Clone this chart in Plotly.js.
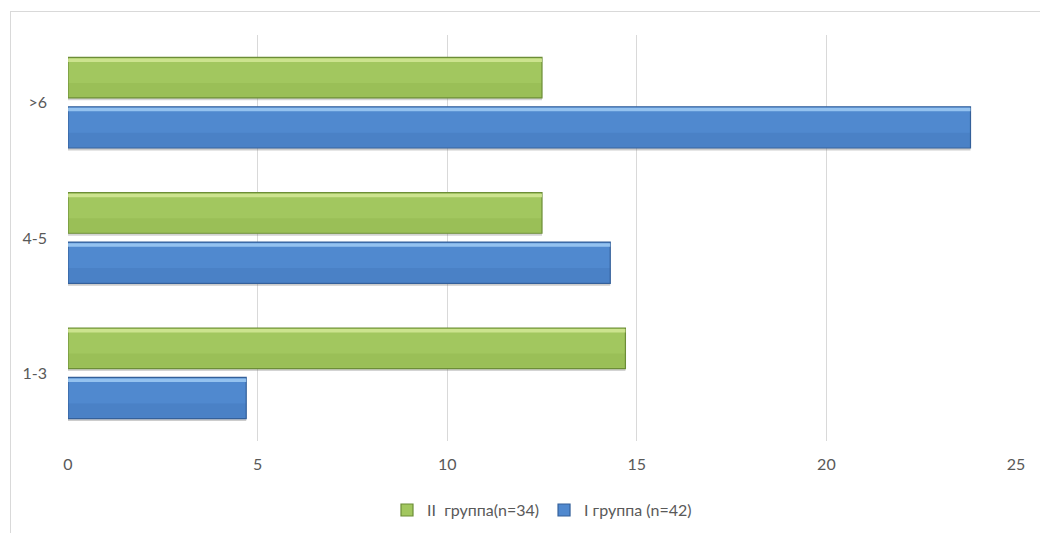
<!DOCTYPE html>
<html>
<head>
<meta charset="utf-8">
<script src="https://cdn.plot.ly/plotly-3.0.1.min.js"></script>
<style>
  html, body { margin: 0; padding: 0; background: #fff; }
  #wrap { position: relative; width: 1040px; height: 533px; }
  #frame { position: absolute; left: 10px; top: 11px; right: 0; bottom: 0;
           border-left: 1px solid #d9d9d9; border-top: 1px solid #d9d9d9; pointer-events: none; }
  #chart { position: absolute; left: 0; top: 0; width: 1040px; height: 533px; }
</style>
</head>
<body>
<div id="wrap">
  <div id="chart"></div>
  <div id="frame"></div>
</div>
<script>
const categories = ['1-3', '4-5', '>6'];
const groupI = [4.7, 14.3, 23.8];      // I группа (n=42)
const groupII = [14.7, 12.5, 12.5];    // II группа(n=34)
const seriesNames = ['I группа (n=42)', 'II  группа(n=34)'];
const xTicks = [0, 5, 10, 15, 20, 25];

// bar geometry (in category units)
const geo = {
  I:  { offset: -0.335, width: 0.305 },
  II: { offset: 0.035, width: 0.30 }
};

function barSet(vals, name, g, base, edge, light, dark, shadow) {
  const common = { type: 'bar', orientation: 'h', y: categories, x: vals, hoverinfo: 'skip', showlegend: false };
  return [
    // soft shadow under the bar
    Object.assign({}, common, { offset: g.offset - 0.018, width: 0.03,
      marker: { color: shadow, line: { width: 0 } } }),
    // main body
    Object.assign({}, common, { name: name, showlegend: true, hoverinfo: 'x+name',
      offset: g.offset, width: g.width,
      marker: { color: base, line: { color: edge, width: 1.2 } } }),
    // subtle lower shading
    Object.assign({}, common, { offset: g.offset + 0.006, width: g.width * 0.35,
      marker: { color: dark, line: { width: 0 } } }),
    // top highlight
    Object.assign({}, common, { offset: g.offset + g.width - 0.034, width: 0.026,
      marker: { color: light, line: { width: 0 } } })
  ];
}

const traces = [].concat(
  barSet(groupI, seriesNames[0], geo.I, '#5089cf', '#34609a', 'rgba(160,204,244,0.85)', 'rgba(50,95,160,0.18)', 'rgba(110,110,110,0.35)'),
  barSet(groupII, seriesNames[1], geo.II, '#a2c75f', '#6c8d37', 'rgba(212,232,150,0.85)', 'rgba(110,150,50,0.16)', 'rgba(110,110,110,0.30)')
);

const layout = {
  width: 1040, height: 533,
  margin: { l: 68, r: 24, t: 35, b: 92 },
  paper_bgcolor: 'rgba(0,0,0,0)',
  plot_bgcolor: 'rgba(0,0,0,0)',
  font: { family: 'Lato, "Open Sans", sans-serif', color: '#595959', size: 16 },
  barmode: 'overlay',
  xaxis: {
    range: [0, 25],
    tickvals: xTicks,
    ticktext: xTicks.map(String),
    showgrid: true, gridcolor: '#d9d9d9', gridwidth: 1,
    zeroline: false, showline: false,
    ticks: '', ticklabelstandoff: 12,
    tickfont: { size: 16, color: '#595959' },
    fixedrange: true
  },
  yaxis: {
    type: 'category',
    categoryorder: 'array', categoryarray: categories,
    range: [-0.5, 2.5],
    showgrid: false, zeroline: false, showline: false,
    ticks: '', ticklabelstandoff: 20,
    tickfont: { size: 16, color: '#595959' },
    fixedrange: true
  },
  showlegend: true,
  legend: {
    orientation: 'h', traceorder: 'reversed',
    xref: 'paper', x: 0.5, xanchor: 'center',
    yref: 'container', y: 0.043, yanchor: 'middle',
    font: { size: 16, color: '#595959' },
    itemwidth: 30
  }
};

Plotly.newPlot('chart', traces, layout, { displayModeBar: false, staticPlot: true });
</script>
</body>
</html>
